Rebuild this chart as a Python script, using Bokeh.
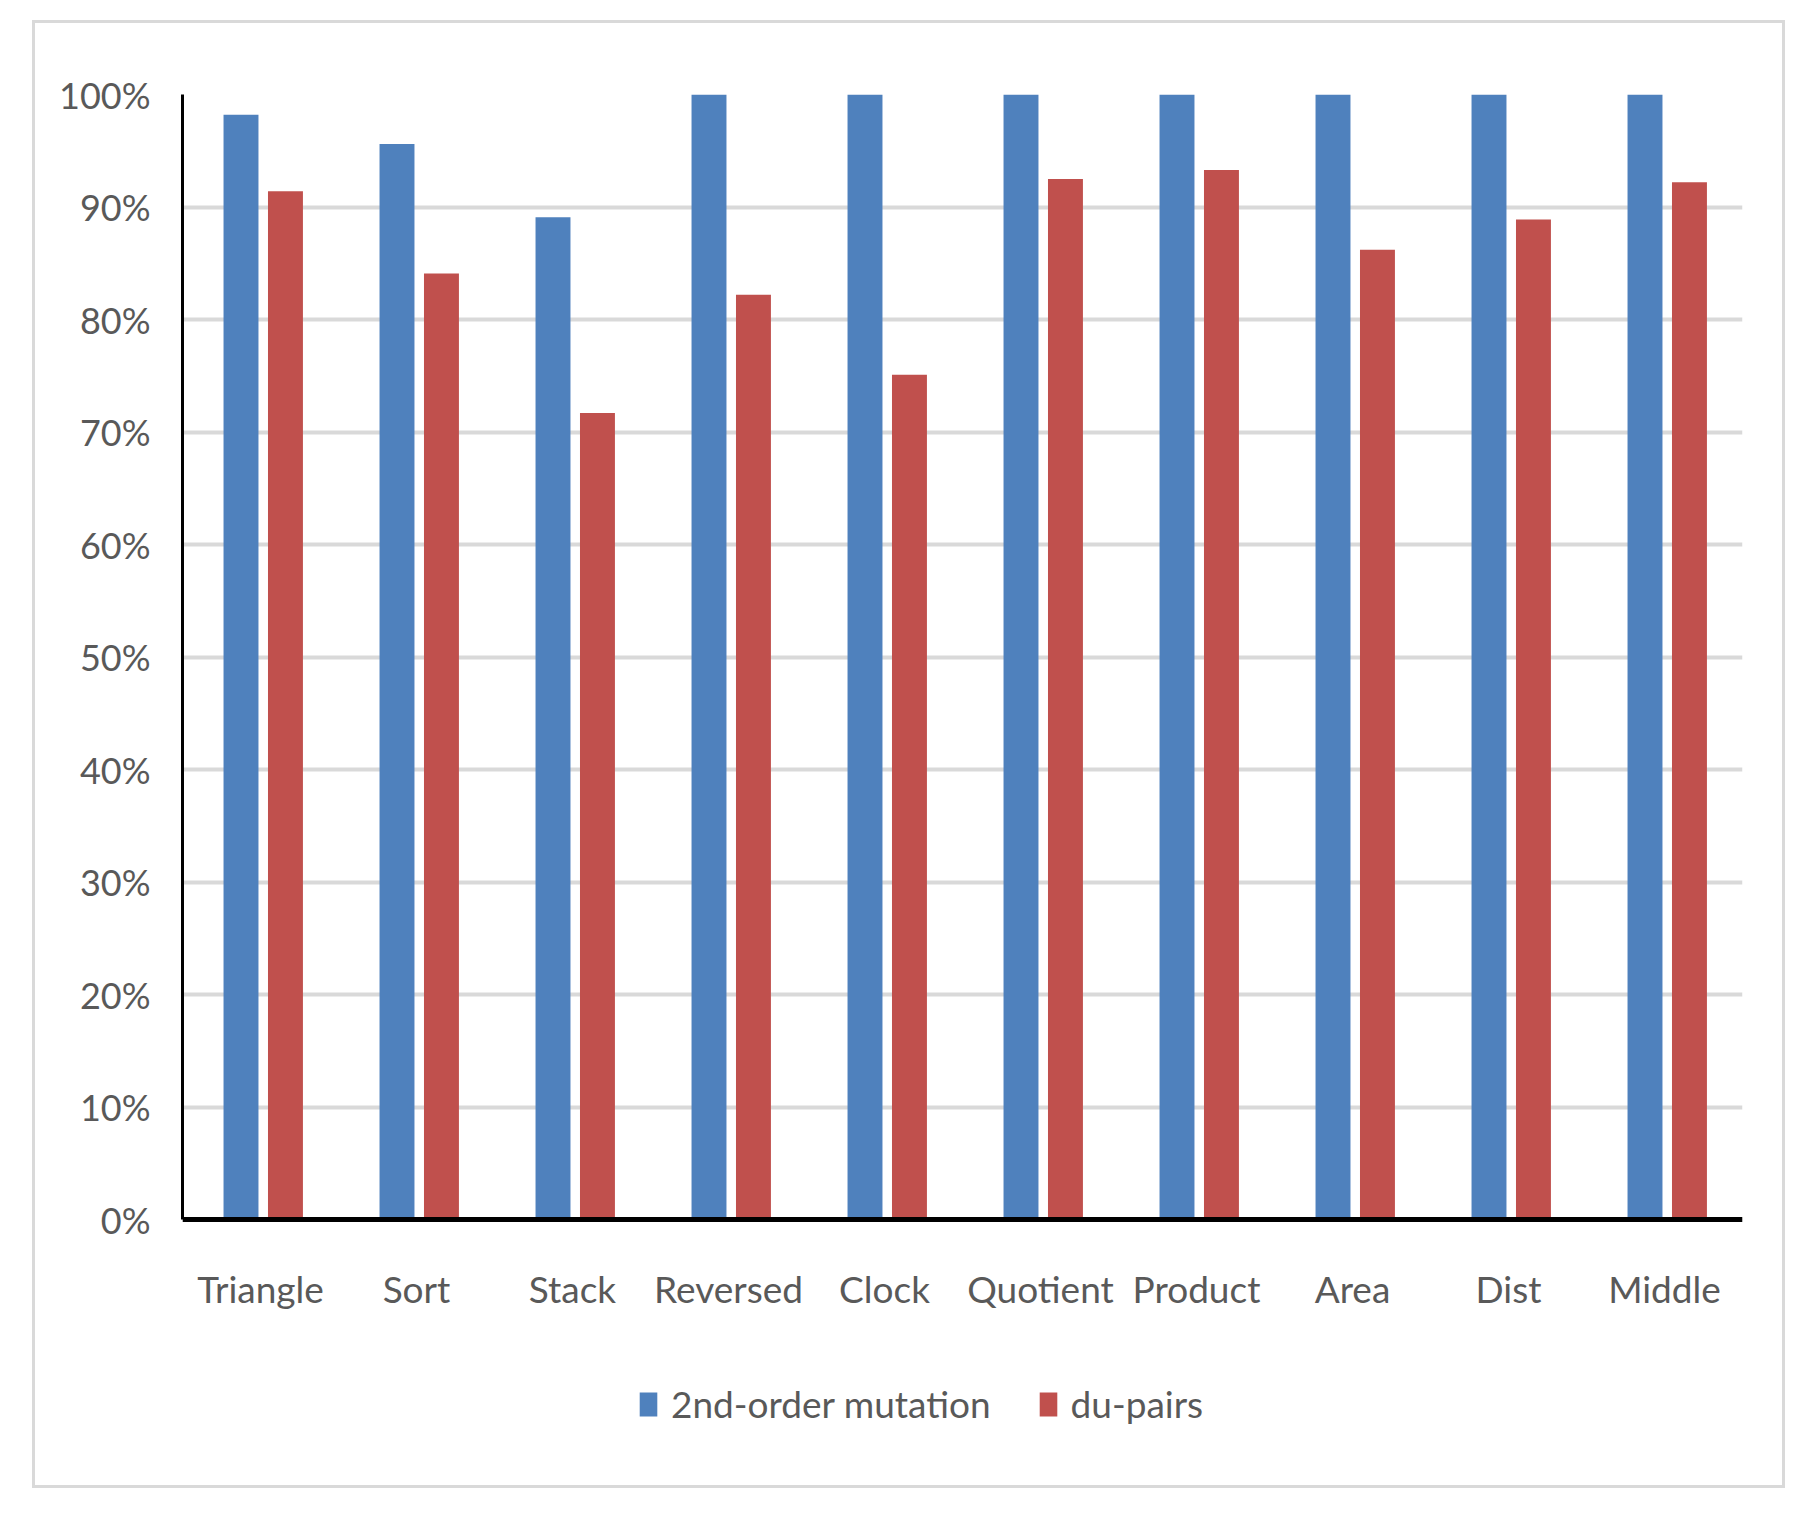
from bokeh.plotting import figure
from bokeh.models import FactorRange, Range1d, NumeralTickFormatter, Legend, LegendItem, ColumnDataSource
from bokeh.transform import dodge
from bokeh.embed import file_html
from bokeh.resources import INLINE

categories = ["Triangle", "Sort", "Stack", "Reversed", "Clock", "Quotient", "Product", "Area", "Dist", "Middle"]
second_order = [0.982, 0.956, 0.891, 1.0, 1.0, 1.0, 1.0, 1.0, 1.0, 1.0]
du_pairs = [0.914, 0.841, 0.717, 0.822, 0.751, 0.925, 0.933, 0.862, 0.889, 0.922]
y_ticks = [0, 0.1, 0.2, 0.3, 0.4, 0.5, 0.6, 0.7, 0.8, 0.9, 1.0]

FONT = "Lato"
TXT = "#595959"
BLUE = "#4f81bd"
RED = "#c0504d"

src = ColumnDataSource(data=dict(cat=categories, m2=second_order, du=du_pairs))

# layout (pixels)
W, H = 1753, 1468
TOP, BOTTOM = 71, 10
PLOT_PX = 1125                      # pixels from 0% to 100%
FRAME_H = H - TOP - BOTTOM
y_start = -(FRAME_H - PLOT_PX) / PLOT_PX

p = figure(x_range=FactorRange(*categories), y_range=Range1d(y_start, 1.0),
           width=W, height=H, output_backend="svg", toolbar_location=None,
           min_border_left=147, min_border_right=46, min_border_top=TOP, min_border_bottom=BOTTOM)
p.styles = {"margin-left": "32px", "margin-top": "20px", "border": "3px solid #d9d9d9"}
p.outline_line_color = None
p.background_fill_color = "white"
p.border_fill_color = "white"
p.x_range.range_padding = 0

r1 = p.vbar(x=dodge("cat", -0.125, range=p.x_range), top="m2", bottom=0, width=0.224, source=src,
            fill_color=BLUE, line_color=None)
r2 = p.vbar(x=dodge("cat", 0.16, range=p.x_range), top="du", bottom=0, width=0.224, source=src,
            fill_color=RED, line_color=None)

# axes
p.yaxis.ticker = y_ticks
p.yaxis.bounds = (0, 1.0)
p.yaxis.formatter = NumeralTickFormatter(format="0%")
p.yaxis.axis_line_color = "black"
p.yaxis.axis_line_width = 3
p.yaxis.major_tick_line_color = None
p.yaxis.minor_tick_line_color = None
p.yaxis.major_label_standoff = 26
p.yaxis.major_label_text_font = FONT
p.yaxis.major_label_text_font_size = "36px"
p.yaxis.major_label_text_color = TXT

p.xaxis.fixed_location = 0
p.xaxis.axis_line_color = "black"
p.xaxis.axis_line_width = 5
p.xaxis.major_tick_line_color = None
p.xaxis.minor_tick_line_color = None
p.xaxis.major_label_standoff = 40
p.xaxis.major_label_text_font = FONT
p.xaxis.major_label_text_font_size = "37px"
p.xaxis.major_label_text_color = TXT

p.xgrid.grid_line_color = None
p.ygrid.grid_line_color = "#d9d9d9"
p.ygrid.grid_line_width = 4

legend = Legend(items=[LegendItem(label="2nd-order mutation", renderers=[r1]),
                       LegendItem(label="du-pairs", renderers=[r2])],
                orientation="horizontal", location=(455, 55))
legend.padding = 0
legend.margin = 0
legend.spacing = 46
legend.glyph_width = 22
legend.glyph_height = 30
legend.label_standoff = 12
legend.label_text_font = FONT
legend.label_text_font_size = "37px"
legend.label_text_color = TXT
legend.border_line_color = None
legend.background_fill_alpha = 0
p.add_layout(legend, "center")

open("out.html", "w").write(file_html(p, INLINE))
